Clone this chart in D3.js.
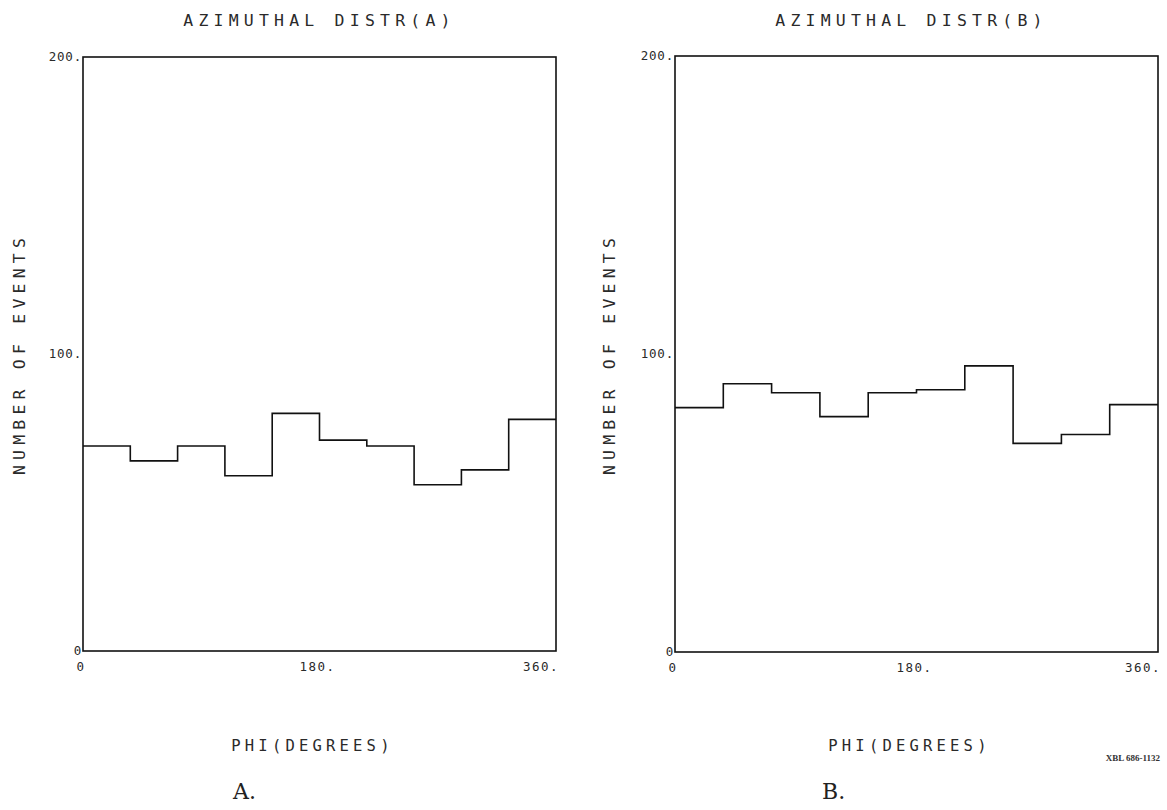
<!DOCTYPE html>
<html>
<head>
<meta charset="utf-8">
<script src="https://cdn.jsdelivr.net/npm/d3@7"></script>
<style>
  html, body { margin: 0; padding: 0; background: #fff; }
  svg { display: block; }
  .plot-font { font-family: "DejaVu Sans Mono", "Liberation Mono", monospace; fill: #2a2a2a; }
</style>
</head>
<body>
<svg id="chart" width="1167" height="810"></svg>
<script>
// Bin edges in degrees (10 bins of 36 degrees each)
const binEdges = [0, 36, 72, 108, 144, 180, 216, 252, 288, 324, 360];

// Event counts per bin, sample A
const countsA = [69, 64, 69, 59, 80, 71, 69, 56, 61, 78];
// Event counts per bin, sample B
const countsB = [82, 90, 87, 79, 87, 88, 96, 70, 73, 83];

const yTickValues = [0, 100, 200];
const yTickLabels = ["0", "100.", "200."];
const xTickValues = [0, 180, 360];
const xTickLabels = ["0", "180.", "360."];

const titles = ["AZIMUTHAL DISTR(A)", "AZIMUTHAL DISTR(B)"];
const xAxisTitle = "PHI(DEGREES)";
const yAxisTitle = "NUMBER OF EVENTS";
const panelTags = ["A.", "B."];
const plateId = "XBL 686-1132";

const svg = d3.select("#chart");

const panels = [
  { counts: countsA, left: 83,  right: 556,  top: 57, bottom: 651, title: titles[0], tag: panelTags[0], yTitleOff: 58, tagOff: 150 },
  { counts: countsB, left: 675, right: 1158, top: 56, bottom: 652, title: titles[1], tag: panelTags[1], yTitleOff: 60, tagOff: 147 }
];

panels.forEach(p => {
  const x = d3.scaleLinear().domain([0, 360]).range([p.left, p.right]);
  const y = d3.scaleLinear().domain([0, 200]).range([p.bottom, p.top]);
  const g = svg.append("g");
  const mid = (p.left + p.right) / 2;

  // Histogram outline as a step line
  const stepPts = p.counts.map((c, i) => [binEdges[i], c]);
  stepPts.push([binEdges[binEdges.length - 1], p.counts[p.counts.length - 1]]);
  const line = d3.line()
    .x(d => x(d[0]))
    .y(d => y(d[1]))
    .curve(d3.curveStepAfter);
  g.append("path")
    .attr("d", line(stepPts))
    .attr("fill", "none")
    .attr("stroke", "#111")
    .attr("stroke-width", 1.6);

  // Frame
  g.append("rect")
    .attr("x", x(0)).attr("y", y(200))
    .attr("width", x(360) - x(0)).attr("height", y(0) - y(200))
    .attr("fill", "none")
    .attr("stroke", "#111")
    .attr("stroke-width", 1.6);

  // Y tick labels
  g.selectAll(".ylab").data(yTickValues).enter().append("text")
    .attr("class", "plot-font")
    .attr("x", p.left - 1)
    .attr("y", d => y(d) + 4)
    .attr("text-anchor", "end")
    .attr("font-size", 12.5)
    .attr("letter-spacing", 0.8)
    .text((d, i) => yTickLabels[i]);

  // X tick labels
  g.selectAll(".xlab").data(xTickValues).enter().append("text")
    .attr("class", "plot-font")
    .attr("x", (d, i) => i === 0 ? x(d) - 2 : (i === 1 ? x(d) - 2 : x(d) + 3))
    .attr("y", p.bottom + 20)
    .attr("text-anchor", (d, i) => i === 2 ? "end" : "middle")
    .attr("font-size", 12.5)
    .attr("letter-spacing", 1.5)
    .text((d, i) => xTickLabels[i]);

  // Title
  g.append("text")
    .attr("class", "plot-font")
    .attr("x", mid - (p.right - p.left - 473) / 2)
    .attr("y", 26)
    .attr("text-anchor", "middle")
    .attr("font-size", 16.5)
    .attr("letter-spacing", 5.2)
    .text(p.title);

  // X axis title
  g.append("text")
    .attr("class", "plot-font")
    .attr("x", mid - 7)
    .attr("y", 751)
    .attr("text-anchor", "middle")
    .attr("font-size", 15.5)
    .attr("letter-spacing", 4.2)
    .text(xAxisTitle);

  // Y axis title (rotated)
  const yTitleX = p.left - p.yTitleOff;
  const yTitleY = (p.top + p.bottom) / 2;
  g.append("text")
    .attr("class", "plot-font")
    .attr("transform", `translate(${yTitleX},${yTitleY}) rotate(-90)`)
    .attr("text-anchor", "middle")
    .attr("font-size", 16.5)
    .attr("letter-spacing", 5.2)
    .text(yAxisTitle);

  // Panel tag under the plot
  g.append("text")
    .attr("x", p.left + p.tagOff)
    .attr("y", 799)
    .attr("font-family", "'DejaVu Serif', 'Liberation Serif', serif")
    .attr("font-size", 22)
    .attr("fill", "#222")
    .text(p.tag);
});

// Plate identifier
svg.append("text")
  .attr("x", 1160)
  .attr("y", 761)
  .attr("text-anchor", "end")
  .attr("font-family", "'Liberation Serif', serif")
  .attr("font-size", 9)
  .attr("font-weight", "bold")
  .attr("fill", "#333")
  .text(plateId);
</script>
</body>
</html>
